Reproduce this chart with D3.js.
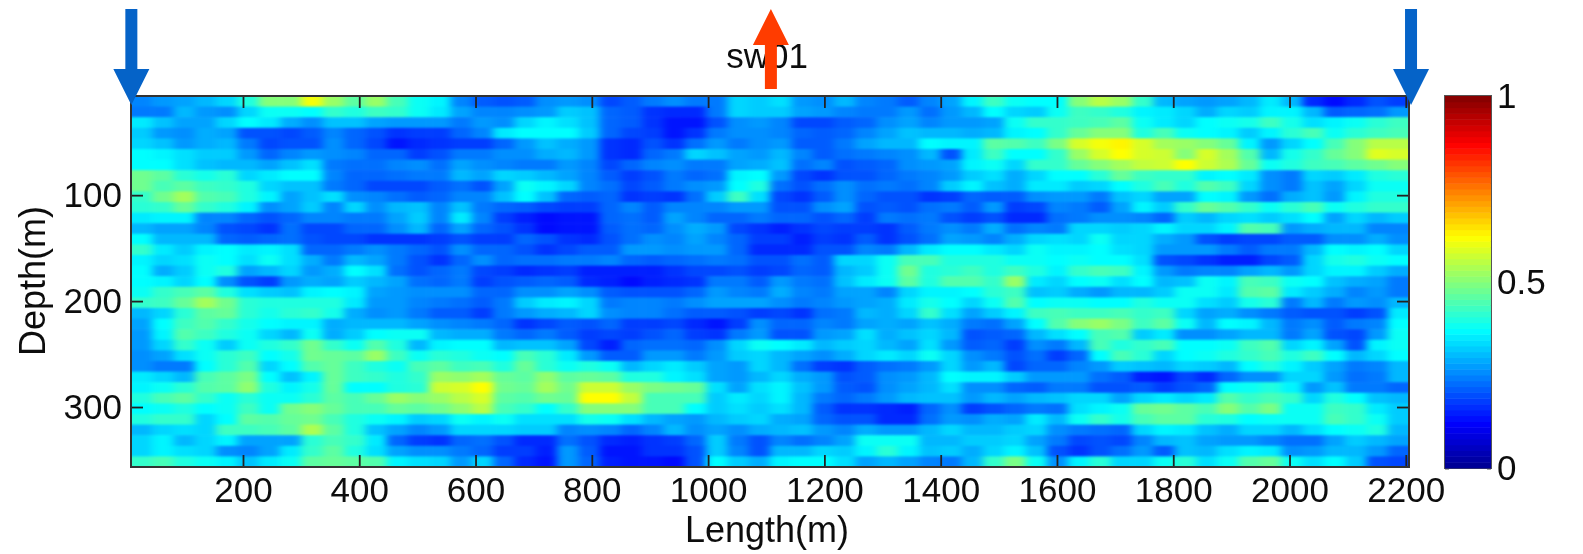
<!DOCTYPE html>
<html>
<head>
<meta charset="utf-8">
<script src="https://cdn.jsdelivr.net/npm/d3@7"></script>
<style>
  body { margin: 0; background: #fff; }
  text { font-family: "Liberation Sans", Arial, sans-serif; fill: #111; }
</style>
</head>
<body>
<script>
const titleText = 'sw01';
const xLabel = 'Length(m)';
const yLabel = 'Depth(m)';
const xTicks = [200, 400, 600, 800, 1000, 1200, 1400, 1600, 1800, 2000, 2200];
const yTicks = [100, 200, 300];
const colorTicks = [0, 0.5, 1];
const downArrows = [8, 2209];
const upArrows = [1108];

// values, in hundredths: 35 depth rows, 60 length columns
const cells = [
[25,27,28,30,33,40,50,50,61,52, 46,52,44,38,36,25,21,20,21,26, 27,26,19,21,24,26,24,24,33,32, 34,27,26,30,25,24,21,25,28,36, 43,38,37,37,50,55,52,42,30,28, 27,28,30,35,30,16,13,16,20,18],
[24,24,30,27,26,33,38,38,37,42, 40,43,42,38,35,28,25,25,26,27, 32,31,22,21,17,16,16,24,33,32, 32,28,27,25,24,24,27,23,27,30, 37,33,32,38,43,42,40,36,35,33, 29,33,32,36,36,30,21,22,23,27],
[35,31,28,28,33,37,35,29,26,31, 31,28,27,27,27,24,27,26,33,36, 34,31,22,21,17,14,14,20,26,27, 25,19,19,21,22,26,28,25,27,27, 28,38,42,42,43,44,46,38,35,33, 37,38,39,43,39,34,36,38,41,43],
[32,27,26,29,28,20,20,19,21,25, 22,20,17,18,18,22,25,35,37,37, 37,32,22,19,18,14,17,24,26,26, 25,22,21,22,25,28,31,30,30,29, 30,36,37,42,47,50,50,40,44,38, 37,36,32,36,41,44,38,41,43,44],
[33,31,27,29,30,24,19,20,20,26, 22,19,14,16,17,18,18,22,27,31, 29,27,17,16,20,17,23,27,24,26, 27,21,21,24,28,30,30,37,36,36, 46,45,43,49,58,61,63,58,53,52, 50,47,36,27,33,37,44,50,55,55],
[37,36,34,32,32,27,22,25,27,26, 25,22,22,18,20,24,24,26,26,29, 30,27,17,16,22,24,33,31,28,27, 30,25,21,23,24,25,26,30,20,35, 43,37,37,42,52,58,62,58,57,50, 58,53,45,30,39,42,47,50,59,58],
[37,37,34,31,30,30,28,31,34,24, 23,23,25,26,23,28,26,25,24,24, 27,25,19,22,25,26,24,24,28,29, 31,23,25,20,21,22,26,27,28,36, 38,33,42,42,47,50,53,56,57,62, 57,54,47,38,40,43,44,46,48,50],
[48,46,41,39,41,33,35,37,37,25, 22,22,23,24,24,30,28,33,32,30, 28,25,21,18,20,24,22,23,36,37, 27,19,17,20,20,22,24,25,27,32, 34,29,33,37,37,41,47,43,42,42, 36,37,35,26,24,33,32,35,40,41],
[48,44,46,43,42,40,33,31,31,24, 22,19,19,19,21,23,20,28,38,36, 33,25,23,19,21,24,26,27,37,40, 23,20,23,26,23,24,23,25,32,36, 31,29,35,35,32,33,37,40,44,40, 45,43,33,26,24,31,28,33,38,38],
[42,48,53,45,44,40,36,28,31,34, 26,25,23,21,22,25,25,31,37,31, 22,21,22,17,18,17,23,32,43,34, 19,17,21,26,22,20,20,17,18,22, 21,21,26,27,27,24,31,33,28,28, 37,36,27,23,29,31,27,36,40,40],
[41,42,47,42,40,36,26,28,32,25, 33,26,30,31,25,31,24,22,21,19, 18,18,22,25,21,25,25,25,27,27, 20,20,26,28,20,21,20,23,24,21, 27,18,19,25,24,21,28,36,32,42, 47,45,42,38,41,44,38,40,42,42],
[35,36,36,25,25,22,20,22,25,25, 24,24,28,32,25,35,25,18,15,13, 14,14,22,23,21,28,25,22,22,24, 22,22,20,22,18,24,23,24,20,18, 20,16,16,23,24,26,26,25,22,32, 30,33,34,32,34,37,28,33,30,32],
[30,28,28,25,20,19,17,23,19,19, 22,22,26,30,22,28,22,20,17,13, 14,14,21,23,22,26,29,27,19,17, 15,17,19,18,18,17,21,24,26,24, 29,23,25,24,33,33,32,33,36,33, 33,36,45,44,27,29,30,30,25,25],
[37,30,30,30,22,21,22,23,20,19, 19,17,17,17,18,20,18,18,22,20, 17,16,20,23,26,25,28,25,22,18, 18,15,18,17,21,17,20,23,28,27, 25,29,33,34,33,38,33,33,29,27, 20,18,19,19,21,21,26,26,29,26],
[42,35,32,36,37,35,36,34,22,22, 24,26,24,22,20,26,22,22,20,17, 19,21,21,27,27,26,27,27,22,16, 16,16,20,20,25,24,30,35,37,37, 35,33,38,36,36,37,34,33,27,27, 27,24,21,24,24,30,37,36,37,33],
[36,33,34,38,37,34,38,34,29,24, 30,28,24,20,17,22,26,22,23,23, 24,24,25,22,21,22,23,24,23,20, 20,23,21,33,33,38,44,44,40,40, 40,38,38,37,38,37,37,34,20,19, 17,15,15,19,21,33,39,40,38,37],
[37,29,32,38,40,28,30,33,27,29, 37,34,23,20,22,24,19,18,16,17, 18,15,15,15,15,17,19,19,20,18, 19,22,21,30,32,38,48,40,41,43, 40,43,40,36,42,44,43,36,27,24, 25,25,28,30,27,33,36,36,32,29],
[37,36,33,37,26,20,18,27,29,28, 32,30,28,23,22,24,18,20,21,22, 21,16,15,13,15,16,17,24,24,21, 27,24,23,31,35,38,46,40,45,45, 42,52,35,33,37,38,34,37,30,31, 38,36,44,43,38,37,31,29,28,24],
[38,42,44,46,40,34,32,31,36,37, 36,28,27,26,26,26,22,22,26,26, 28,26,21,20,20,20,22,27,25,24, 29,25,24,28,28,25,33,36,36,37, 41,43,31,32,29,27,30,30,32,38, 38,35,45,46,35,32,29,25,27,24],
[42,43,47,53,48,41,40,40,40,40, 35,27,27,25,24,23,21,24,32,35, 36,33,24,25,25,24,26,28,28,28, 26,24,25,27,28,29,35,39,37,33, 38,45,37,38,38,37,37,40,38,38, 34,32,39,41,24,30,24,27,26,30],
[30,33,41,46,47,41,39,41,42,39, 29,26,27,24,21,21,18,24,27,29, 30,33,26,25,25,23,21,21,20,18, 19,17,23,24,30,29,33,42,34,28, 32,36,43,44,43,43,44,42,43,33, 28,29,26,24,21,20,20,18,20,35],
[28,37,43,45,42,39,37,36,36,29, 30,30,30,28,26,25,24,22,17,19, 21,20,22,18,18,19,16,14,18,26, 22,22,25,24,28,29,28,31,29,24, 23,28,37,45,50,52,49,43,46,38, 30,37,36,30,24,26,21,24,25,37],
[27,36,45,43,40,38,33,30,38,29, 32,37,38,38,30,29,29,24,22,24, 21,18,19,18,20,22,18,17,24,27, 20,20,27,28,34,29,31,33,30,20, 21,22,30,34,37,44,45,32,35,26, 26,28,30,30,24,28,20,19,27,38],
[27,33,42,38,32,38,40,42,48,42, 38,45,40,30,36,37,37,30,31,31, 28,19,15,22,23,23,22,26,33,38, 37,35,30,32,33,30,28,34,27,21, 22,18,26,24,30,44,40,42,44,37, 37,38,43,45,33,36,28,20,36,38],
[26,28,34,38,41,43,37,39,48,47, 46,52,43,38,41,40,38,37,44,41, 35,27,21,21,27,27,24,27,32,33, 30,28,26,29,33,35,33,38,33,26, 24,20,23,18,22,37,44,41,33,37, 38,40,42,44,40,43,37,30,33,37],
[26,24,24,37,41,45,33,37,45,47, 43,40,38,44,46,43,44,40,47,41, 38,40,38,30,33,35,32,28,27,33, 30,23,18,17,21,23,24,27,33,27, 30,19,22,22,25,27,32,31,30,33, 32,30,37,40,36,32,28,24,25,30],
[35,33,30,44,46,49,37,31,36,47, 43,42,40,42,52,51,53,47,46,51, 46,47,46,40,40,36,34,28,27,30, 33,29,27,20,21,26,27,30,37,36, 36,32,27,27,27,23,21,15,14,19, 16,22,26,26,33,33,27,23,24,30],
[36,38,41,45,46,51,40,36,39,47, 37,37,40,41,57,58,62,48,47,53, 48,57,57,52,49,48,47,34,28,34, 36,31,27,21,20,26,28,30,34,26, 26,22,21,24,24,20,20,21,18,20, 22,37,38,40,36,27,31,24,24,22],
[40,44,46,42,38,41,38,38,41,46, 44,47,52,50,52,55,58,46,45,48, 47,62,62,56,44,44,44,32,35,33, 36,30,24,22,24,27,30,31,31,27, 30,28,30,31,33,33,28,33,35,33, 35,45,42,44,42,33,40,37,31,30],
[37,38,40,37,38,43,38,48,50,47, 44,44,47,46,48,51,55,44,42,37, 42,50,50,50,44,44,37,32,34,32, 34,30,21,17,17,16,15,22,26,18, 20,22,24,23,34,36,38,47,48,46, 44,50,45,49,38,38,43,42,35,32],
[40,42,42,33,37,46,45,47,48,44, 40,38,36,32,33,38,36,38,34,34, 34,39,38,34,30,28,27,30,32,33, 29,28,22,20,20,16,16,23,27,26, 29,28,35,30,38,42,39,44,46,46, 41,40,37,38,38,38,44,42,38,32],
[30,33,34,33,43,43,44,46,54,46, 40,31,28,25,27,33,33,33,32,32, 25,26,25,22,25,30,26,28,26,29, 30,31,27,25,29,27,27,30,33,30, 30,32,33,26,24,23,22,33,36,35, 31,29,33,33,30,34,37,38,40,30],
[33,36,30,33,36,28,28,28,41,44, 42,35,22,18,17,22,23,20,16,16, 23,20,16,15,17,18,22,32,24,20, 25,23,25,28,38,38,38,30,30,32, 32,33,28,24,19,20,19,25,30,31, 28,27,27,25,23,23,28,32,30,28],
[33,36,34,33,26,25,28,35,42,46, 40,34,28,26,26,24,22,18,18,15, 27,21,14,14,17,17,20,32,25,20, 30,30,33,32,36,41,36,31,32,29, 33,36,31,20,17,20,23,27,21,31, 30,34,36,35,26,27,30,30,27,22],
[42,44,40,38,36,31,35,38,46,47, 46,45,36,34,33,27,33,22,16,14, 27,22,15,14,14,13,20,37,32,29, 36,37,37,34,28,30,28,25,24,30, 42,49,38,26,36,41,33,33,38,41, 34,38,45,47,38,34,37,32,20,19]
];

const width = 1583,
  height = 554;
const plot = { left: 131, right: 1409, top: 96, bottom: 467 };
const bar = { left: 1445, right: 1491, top: 96, bottom: 468 };
const fontSize = 35;
const labelSize = 36;
const ink = '#222';

const x = d3.scaleLinear().domain([7.4, 2205.5]).range([plot.left, plot.right]);
const y = d3.scaleLinear().domain([6.4, 356.6]).range([plot.top, plot.bottom]);
const colX = d3.scaleBand().domain(d3.range(cells[0].length)).range([plot.left, plot.right]);
const rowY = d3.scaleBand().domain(d3.range(cells.length)).range([plot.top, plot.bottom]);

// matlab jet
const jet = d3.scaleLinear()
  .domain([0, 0.12, 0.37, 0.62, 0.87, 1])
  .range(['#00008f', '#0000ff', '#00ffff', '#ffff00', '#ff0000', '#800000'])
  .clamp(true);

const svg = d3.select('body').append('svg')
  .attr('width', width)
  .attr('height', height)
  .style('display', 'block');

const defs = svg.append('defs');

defs.append('clipPath').attr('id', 'plot-clip')
  .append('rect')
  .attr('x', plot.left).attr('y', plot.top)
  .attr('width', plot.right - plot.left).attr('height', plot.bottom - plot.top);

const smooth = defs.append('filter').attr('id', 'smooth')
  .attr('filterUnits', 'userSpaceOnUse')
  .attr('x', 0).attr('y', 0).attr('width', width).attr('height', height)
  .attr('color-interpolation-filters', 'sRGB');
smooth.append('feGaussianBlur').attr('stdDeviation', '4.5 1.2');

const soft = defs.append('filter').attr('id', 'soft')
  .attr('filterUnits', 'userSpaceOnUse')
  .attr('x', 0).attr('y', 0).attr('width', width).attr('height', height);
soft.append('feGaussianBlur').attr('stdDeviation', 0.55);

// edge cells run past the clip so the blur does not fade at the frame
const pad = 30;
const cellData = cells.flatMap((row, r) => row.map((v, c) => ({ r, c, v: v / 100 })));

svg.append('g')
  .attr('clip-path', 'url(#plot-clip)')
  .append('g')
  .attr('filter', 'url(#smooth)')
  .selectAll('rect')
  .data(cellData)
  .enter().append('rect')
  .attr('x', d => colX(d.c) - (d.c === 0 ? pad : 0))
  .attr('y', d => rowY(d.r) - (d.r === 0 ? pad : 0))
  .attr('width', d => colX.bandwidth() + 0.6 + (d.c === 0 || d.c === cells[0].length - 1 ? pad : 0))
  .attr('height', d => rowY.bandwidth() + 0.6 + (d.r === 0 || d.r === cells.length - 1 ? pad : 0))
  .attr('fill', d => jet(d.v));

const axes = svg.append('g').attr('filter', 'url(#soft)');

function styleAxis(g) {
  g.select('.domain').remove();
  g.selectAll('line').attr('stroke', ink).attr('stroke-width', 1.8);
  g.selectAll('text').attr('font-size', fontSize);
  g.attr('font-family', null);
}

axes.append('g')
  .attr('transform', `translate(0,${plot.bottom})`)
  .call(d3.axisBottom(x).tickValues(xTicks).tickFormat(d3.format('')).tickSize(-12).tickPadding(10))
  .call(styleAxis);

axes.append('g')
  .attr('transform', `translate(0,${plot.top})`)
  .call(d3.axisTop(x).tickValues(xTicks).tickSize(-12).tickFormat(''))
  .call(styleAxis);

axes.append('g')
  .attr('transform', `translate(${plot.left},0)`)
  .call(d3.axisLeft(y).tickValues(yTicks).tickSize(-12).tickPadding(9))
  .call(styleAxis);

axes.append('g')
  .attr('transform', `translate(${plot.right},0)`)
  .call(d3.axisRight(y).tickValues(yTicks).tickSize(-12).tickFormat(''))
  .call(styleAxis);

axes.append('rect')
  .attr('x', plot.left).attr('y', plot.top)
  .attr('width', plot.right - plot.left).attr('height', plot.bottom - plot.top)
  .attr('fill', 'none')
  .attr('stroke', '#333')
  .attr('stroke-width', 2);

// colorbar
const barY = d3.scaleLinear().domain([0, 1]).range([bar.bottom, bar.top]);
const levels = d3.range(64);

svg.append('g')
  .selectAll('rect')
  .data(levels)
  .enter().append('rect')
  .attr('x', bar.left)
  .attr('width', bar.right - bar.left)
  .attr('y', d => barY((d + 1) / 64))
  .attr('height', d => barY(d / 64) - barY((d + 1) / 64) + 0.5)
  .attr('fill', d => jet((d + 0.5) / 64));

axes.append('g')
  .attr('transform', `translate(${bar.right},0)`)
  .call(d3.axisRight(barY).tickValues(colorTicks).tickFormat(d3.format('')).tickSize(-4).tickPadding(6))
  .call(styleAxis);

axes.append('g')
  .attr('transform', `translate(${bar.left},0)`)
  .call(d3.axisLeft(barY).tickValues(colorTicks).tickSize(-4).tickFormat(''))
  .call(styleAxis);

axes.append('rect')
  .attr('x', bar.left).attr('y', bar.top)
  .attr('width', bar.right - bar.left).attr('height', bar.bottom - bar.top)
  .attr('fill', 'none')
  .attr('stroke', '#555')
  .attr('stroke-width', 2);

// titles
axes.append('text')
  .attr('x', 767).attr('y', 68)
  .attr('text-anchor', 'middle')
  .attr('font-size', fontSize)
  .text(titleText);

axes.append('text')
  .attr('x', 767).attr('y', 542)
  .attr('text-anchor', 'middle')
  .attr('font-size', labelSize)
  .text(xLabel);

axes.append('text')
  .attr('transform', 'translate(45,281) rotate(-90)')
  .attr('text-anchor', 'middle')
  .attr('font-size', labelSize)
  .text(yLabel);

// arrows
const arrowPath = d3.line();

svg.append('g')
  .selectAll('path')
  .data(downArrows)
  .enter().append('path')
  .attr('fill', '#0563c8')
  .attr('d', d => arrowPath([
    [x(d) - 6, 9], [x(d) + 6, 9], [x(d) + 6, 69], [x(d) + 18, 69],
    [x(d), 105], [x(d) - 18, 69], [x(d) - 6, 69]
  ]) + 'Z');

svg.append('g')
  .selectAll('path')
  .data(upArrows)
  .enter().append('path')
  .attr('fill', '#ff3c00')
  .attr('d', d => arrowPath([
    [x(d) - 6, 89], [x(d) + 6, 89], [x(d) + 6, 45], [x(d) + 18, 45],
    [x(d), 9], [x(d) - 18, 45], [x(d) - 6, 45]
  ]) + 'Z');
</script>
</body>
</html>
